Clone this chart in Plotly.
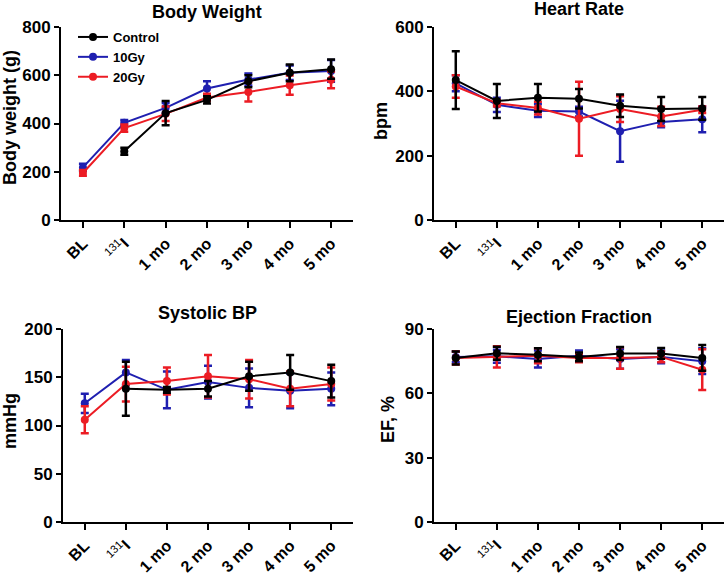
import plotly.graph_objects as go

W, H = 725, 574

timepoints = ["BL", "<span style='font-weight:normal'><sup>131</sup></span>I", "1 mo", "2 mo", "3 mo", "4 mo", "5 mo"]
x_idx = [0, 1, 2, 3, 4, 5, 6]

groups = ["Control", "10Gy", "20Gy"]
colors = {"Control": "#000000", "10Gy": "#1f1fb0", "20Gy": "#ec1c24"}

# Body weight (g)
bw_control = [None, 285, 443, 498, 575, 610, 625]
bw_control_err = [None, 15, 50, 15, 25, 35, 40]
bw_10gy = [218, 403, 465, 545, 582, 610, 618]
bw_10gy_err = [15, 12, 20, 30, 25, 30, 45]
bw_20gy = [195, 381, 440, 508, 531, 559, 581]
bw_20gy_err = [12, 15, 30, 15, 40, 40, 35]

# Heart rate (bpm)
hr_control = [435, 370, 380, 377, 355, 345, 347]
hr_control_err = [90, 53, 43, 30, 35, 37, 35]
hr_10gy = [425, 358, 340, 337, 276, 305, 313]
hr_10gy_err = [25, 22, 20, 15, 95, 17, 40]
hr_20gy = [415, 363, 348, 315, 345, 322, 343]
hr_20gy_err = [35, 10, 20, 115, 40, 30, 10]

# Systolic BP (mmHg)
bp_control = [None, 138, 137, 138, 151, 155, 146]
bp_control_err = [None, 28, 3, 8, 15, 18, 17]
bp_10gy = [123, 155, 137, 145, 139, 136, 138]
bp_10gy_err = [10, 13, 19, 17, 20, 18, 17]
bp_20gy = [106, 143, 146, 151, 148, 138, 143]
bp_20gy_err = [14, 18, 14, 22, 20, 18, 17]

# Ejection fraction (%)
ef_control = [76.5, 78.7, 78.0, 77.0, 78.6, 78.6, 76.5]
ef_control_err = [3, 3, 3, 2, 3, 2.5, 6]
ef_10gy = [77.0, 77.3, 76.0, 77.5, 76.0, 77.0, 75.0]
ef_10gy_err = [2.5, 3, 4, 2.5, 4.5, 3, 6]
ef_20gy = [76.5, 77.0, 77.5, 76.5, 76.5, 77.0, 71.0]
ef_20gy_err = [3, 5, 3.5, 2, 5, 2.5, 9.5]

panels = [
    dict(title="Body Weight", ytitle="Body weight (g)", ymax=800, dtick=200,
         data={"Control": (bw_control, bw_control_err), "10Gy": (bw_10gy, bw_10gy_err), "20Gy": (bw_20gy, bw_20gy_err)},
         px=(61, 353), py=(27, 220), title_pos=(207, 12), ytitle_pos=(10, 118)),
    dict(title="Heart Rate", ytitle="bpm", ymax=600, dtick=200,
         data={"Control": (hr_control, hr_control_err), "10Gy": (hr_10gy, hr_10gy_err), "20Gy": (hr_20gy, hr_20gy_err)},
         px=(434, 724), py=(27, 220), title_pos=(579, 9), ytitle_pos=(381, 121)),
    dict(title="Systolic BP", ytitle="mmHg", ymax=200, dtick=50,
         data={"Control": (bp_control, bp_control_err), "10Gy": (bp_10gy, bp_10gy_err), "20Gy": (bp_20gy, bp_20gy_err)},
         px=(63, 353), py=(329, 522), title_pos=(207, 313), ytitle_pos=(10, 421)),
    dict(title="Ejection Fraction", ytitle="EF, %", ymax=90, dtick=30,
         data={"Control": (ef_control, ef_control_err), "10Gy": (ef_10gy, ef_10gy_err), "20Gy": (ef_20gy, ef_20gy_err)},
         px=(434, 724), py=(329, 522), title_pos=(579, 317), ytitle_pos=(388, 420)),
]

FONT = "Arial, Liberation Sans, sans-serif"
fig = go.Figure()
annotations = []
layout_axes = {}

draw_order = ["10Gy", "20Gy", "Control"]
rank = {"Control": 1, "10Gy": 2, "20Gy": 3}

for i, p in enumerate(panels):
    n = "" if i == 0 else str(i + 1)
    xa, ya = "x" + n, "y" + n
    for g in draw_order:
        yv, ev = p["data"][g]
        fig.add_trace(go.Scatter(
            x=x_idx, y=yv, xaxis=xa, yaxis=ya, name=g,
            mode="lines+markers",
            line=dict(color=colors[g], width=2),
            marker=dict(color=colors[g], size=8),
            error_y=dict(type="data", array=ev, visible=True, color=colors[g], thickness=2.5, width=4),
            showlegend=(i == 0), legendrank=rank[g], connectgaps=False,
        ))
    layout_axes["xaxis" + n] = dict(
        domain=[p["px"][0] / W, p["px"][1] / W], anchor=ya, automargin=False,
        range=[-0.53, 6.53], tickvals=x_idx, ticktext=timepoints, tickangle=-45,
        showline=True, linecolor="black", linewidth=2, ticks="outside", ticklen=6, tickwidth=2,
        tickcolor="black", showgrid=False, zeroline=False,
        tickfont=dict(family=FONT, size=16, color="black", weight="bold"),
    )
    layout_axes["yaxis" + n] = dict(
        domain=[1 - p["py"][1] / H, 1 - p["py"][0] / H], anchor=xa, automargin=False,
        range=[0, p["ymax"]], dtick=p["dtick"], tick0=0,
        showline=True, linecolor="black", linewidth=2, ticks="outside", ticklen=5, tickwidth=2,
        tickcolor="black", showgrid=False, zeroline=False,
        tickfont=dict(family=FONT, size=17, color="black", weight="bold"),
    )
    annotations.append(dict(
        text=p["title"], xref="paper", yref="paper", x=p["title_pos"][0] / W, y=1 - p["title_pos"][1] / H,
        xanchor="center", yanchor="middle", showarrow=False,
        font=dict(family=FONT, size=18, color="black", weight="bold"),
    ))
    annotations.append(dict(
        text=p["ytitle"], xref="paper", yref="paper", x=p["ytitle_pos"][0] / W, y=1 - p["ytitle_pos"][1] / H,
        xanchor="center", yanchor="middle", showarrow=False, textangle=-90,
        font=dict(family=FONT, size=18, color="black", weight="bold"),
    ))

fig.update_layout(
    template="none",
    width=W, height=H, margin=dict(l=0, r=0, t=0, b=0, autoexpand=False),
    paper_bgcolor="white", plot_bgcolor="white",
    annotations=annotations,
    legend=dict(x=73 / W, y=1 - 22 / H, xanchor="left", yanchor="top",
                font=dict(family=FONT, size=13, color="black", weight="bold"),
                bgcolor="rgba(0,0,0,0)", tracegroupgap=0, itemwidth=30),
    **layout_axes,
)

fig.write_html("out.html", config={"displayModeBar": False},
               post_script="document.body.style.margin='0px';")
